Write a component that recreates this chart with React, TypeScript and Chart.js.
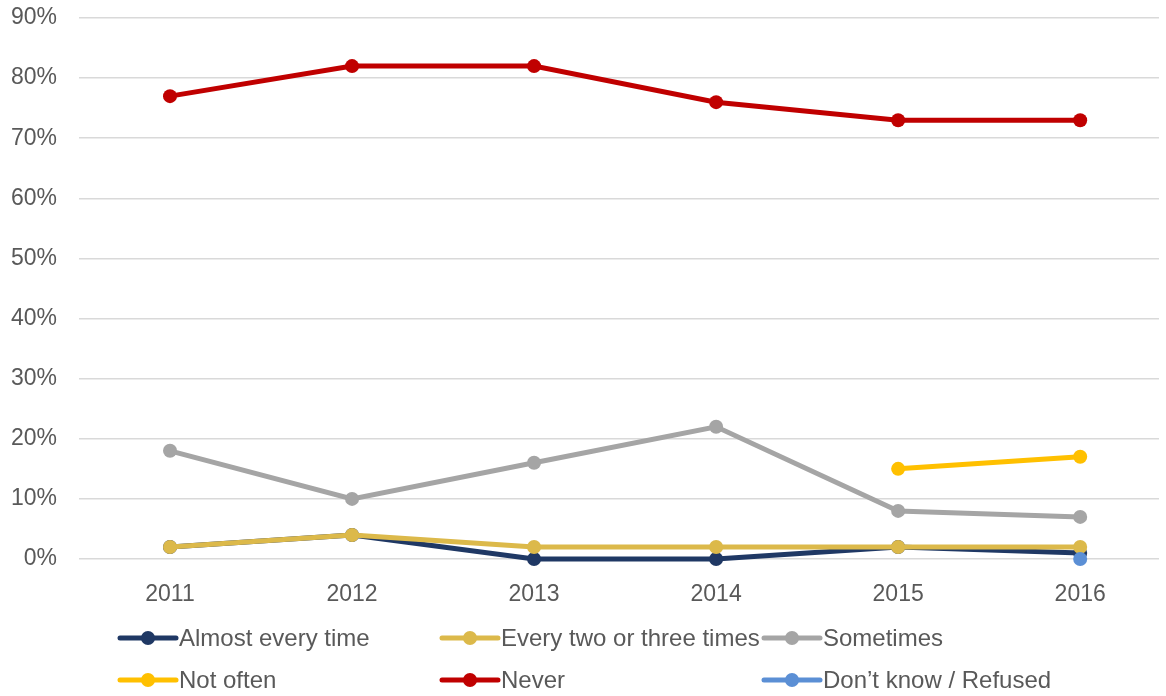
import React, { useEffect, useRef } from "react";
import { Chart, registerables } from "chart.js";

Chart.register(...registerables);

const years = [2011, 2012, 2013, 2014, 2015, 2016];
const almostEveryTime = [2, 4, 0, 0, 2, 1];
const everyTwoOrThree = [2, 4, 2, 2, 2, 2];
const sometimes = [18, 10, 16, 22, 8, 7];
const notOften = [null, null, null, null, 15, 17];
const never = [77, 82, 82, 76, 73, 73];
const dontKnow = [null, null, null, null, null, 0];
const yTicks = [0, 10, 20, 30, 40, 50, 60, 70, 80, 90];

const seriesNames = [
  "Almost every time",
  "Every two or three times",
  "Sometimes",
  "Not often",
  "Never",
  "Don\u2019t know / Refused",
];
const seriesValues = [almostEveryTime, everyTwoOrThree, sometimes, notOften, never, dontKnow];
const seriesColors = ["#1F3864", "#DCB94A", "#A5A5A5", "#FFC000", "#C00000", "#5B8FD5"];

const FONT = "'Liberation Sans', Arial, sans-serif";
const TEXT = "#595959";

const legendPlugin = {
  id: "gridLegend",
  afterDraw(chart: any) {
    const ctx = chart.ctx;
    const cols = [120, 442, 764];
    const rows = [638, 680];
    ctx.save();
    seriesNames.forEach((name, i) => {
      const x = cols[i % 3];
      const y = rows[Math.floor(i / 3)];
      const c = seriesColors[i];
      ctx.strokeStyle = c;
      ctx.lineWidth = 5;
      ctx.lineCap = "round";
      ctx.beginPath();
      ctx.moveTo(x, y);
      ctx.lineTo(x + 56, y);
      ctx.stroke();
      ctx.fillStyle = c;
      ctx.beginPath();
      ctx.arc(x + 28, y, 7, 0, Math.PI * 2);
      ctx.fill();
      ctx.fillStyle = TEXT;
      ctx.font = `24px ${FONT}`;
      ctx.textBaseline = "middle";
      ctx.textAlign = "left";
      ctx.fillText(name, x + 59, y + 1);
    });
    ctx.restore();
  },
};

export default function App() {
  const ref = useRef<HTMLCanvasElement>(null);
  useEffect(() => {
    const n = seriesNames.length;
    const chart = new Chart(ref.current as HTMLCanvasElement, {
      type: "line",
      data: {
        datasets: seriesNames.map((name, i) => ({
          label: name,
          data: years.map((x, j) => ({ x, y: seriesValues[i][j] })),
          borderColor: seriesColors[i],
          backgroundColor: seriesColors[i],
          pointBackgroundColor: seriesColors[i],
          pointBorderWidth: 0,
          pointRadius: 7,
          borderWidth: 5,
          tension: 0,
          spanGaps: false,
          clip: false,
          order: n - i,
        })),
      },
      options: {
        animation: false,
        responsive: false,
        layout: { padding: { top: 18, left: 0, right: 0, bottom: 95 } },
        plugins: { legend: { display: false }, tooltip: { enabled: false } },
        scales: {
          x: {
            type: "linear",
            min: 2010.5,
            max: 2016.433,
            grid: { display: false },
            border: { display: false },
            afterBuildTicks: (scale: any) => {
              scale.ticks = years.map((v) => ({ value: v }));
            },
            afterFit: (scale: any) => {
              scale.height = 42;
              scale.paddingLeft = 0;
              scale.paddingRight = 0;
            },
            ticks: {
              padding: 14,
              color: TEXT,
              font: { family: FONT, size: 23 },
              callback: (v: any) => String(v),
              autoSkip: false,
              maxRotation: 0,
            },
          },
          y: {
            min: 0,
            max: 90,
            afterBuildTicks: (scale: any) => {
              scale.ticks = yTicks.map((v) => ({ value: v }));
            },
            afterFit: (scale: any) => {
              scale.width = 79;
              scale.paddingTop = 0;
              scale.paddingBottom = 0;
            },
            grid: { color: "#D9D9D9", lineWidth: 1.5, drawTicks: false },
            border: { display: false },
            ticks: {
              padding: 22,
              color: TEXT,
              font: { family: FONT, size: 23 },
              callback: (v: any) => v + "%",
            },
          },
        },
      },
      plugins: [legendPlugin],
    });
    return () => chart.destroy();
  }, []);
  return (
    <div style={{ position: "fixed", left: 0, top: 0, width: 1166, height: 696, background: "#fff" }}>
      <canvas ref={ref} width={1166} height={696} style={{ display: "block" }} />
    </div>
  );
}
